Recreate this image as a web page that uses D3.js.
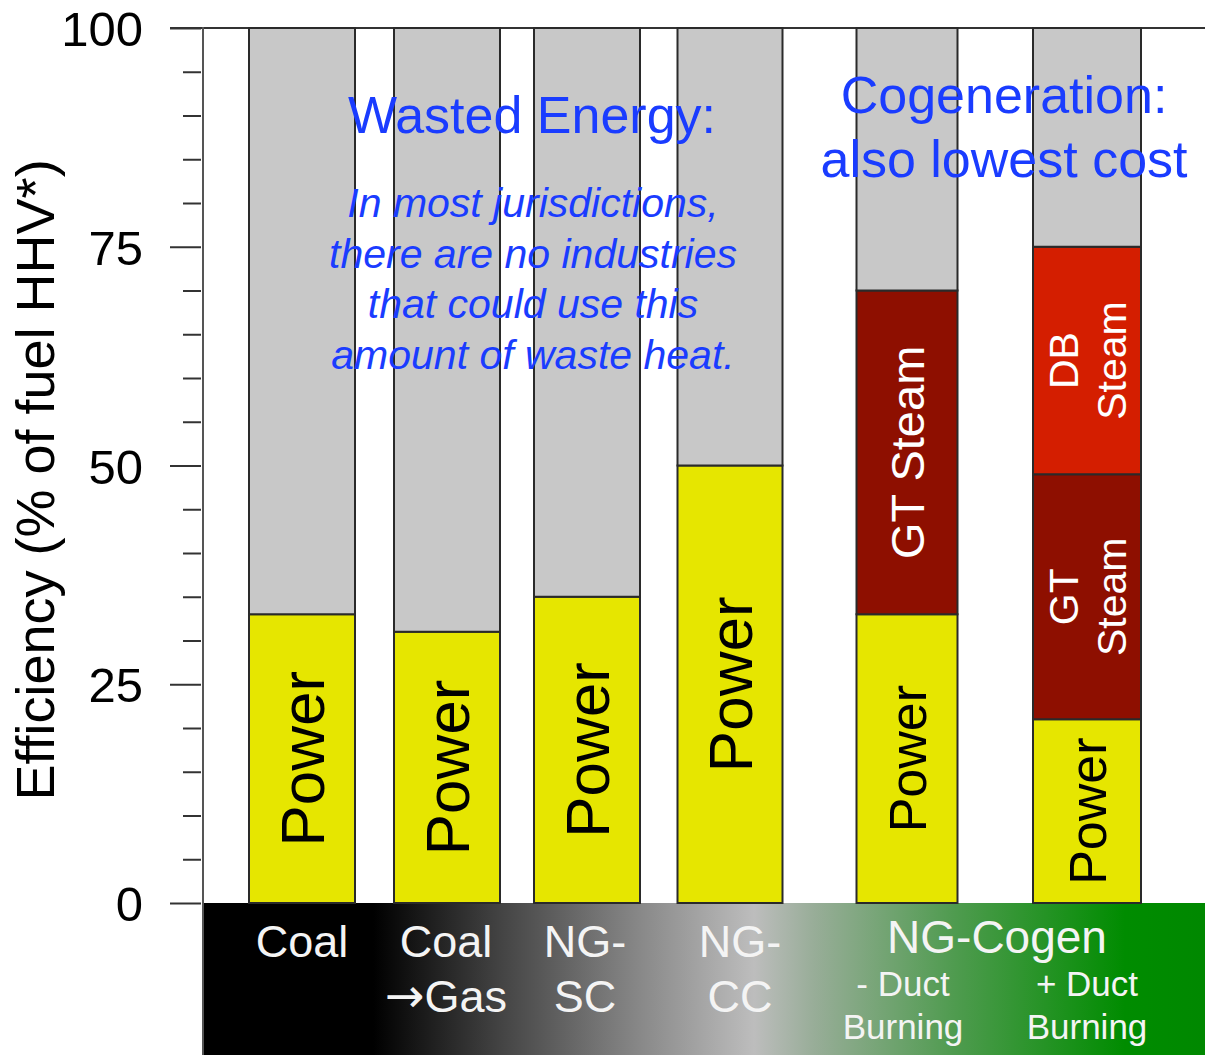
<!DOCTYPE html>
<html>
<head>
<meta charset="utf-8">
<script src="https://cdn.jsdelivr.net/npm/d3@7"></script>
<style>
  html, body { margin: 0; padding: 0; background: #fff; }
  svg { display: block; font-family: "Liberation Sans", Arial, sans-serif; }
</style>
</head>
<body>
<svg id="chart" width="1205" height="1055"></svg>
<script>
// Plant types along the bottom band
const categories = ["Coal", "Coal→Gas", "NG-SC", "NG-CC", "NG-Cogen -DB", "NG-Cogen +DB"];

// Efficiency split, % of fuel HHV
const power   = [33, 31, 35, 50, 33, 21];
const gtSteam = [0, 0, 0, 0, 37, 28];
const dbSteam = [0, 0, 0, 0, 0, 26];
const wasted  = [67, 69, 65, 50, 30, 25];

// Y axis ticks
const majorTicks = [0, 25, 50, 75, 100];
const minorTicks = [5, 10, 15, 20, 30, 35, 40, 45, 55, 60, 65, 70, 80, 85, 90, 95];

// Text inside each segment (lines of a rotated label)
const powerLabels   = [["Power"], ["Power"], ["Power"], ["Power"], ["Power"], ["Power"]];
const gtSteamLabels = [[], [], [], [], ["GT Steam"], ["GT", "Steam"]];
const dbSteamLabels = [[], [], [], [], [], ["DB", "Steam"]];

// Category names in the bottom band
const bandLabels = [["Coal"], ["Coal", "→Gas"], ["NG-", "SC"], ["NG-", "CC"], ["- Duct", "Burning"], ["+ Duct", "Burning"]];
const groupLabel = "NG-Cogen";

const svg = d3.select("#chart");
const W = 1205, H = 1055;
const plotLeft = 203, plotTop = 28, plotBottom = 903;

const y = d3.scaleLinear().domain([0, 100]).range([plotBottom, plotTop]);
const x = d3.scaleOrdinal().domain(categories).range([302, 447, 587, 730, 907, 1087]);
const barW = d3.scaleOrdinal().domain(categories).range([106, 106, 106, 105, 101, 108]);
// horizontal nudge of band captions relative to bar centres
const bandShift = d3.scaleOrdinal().domain(categories).range([0, -1, -2, 10, -4, 0]);

const rows = categories.map((c, i) => ({
  cat: c, power: power[i], gtSteam: gtSteam[i], dbSteam: dbSteam[i], wasted: wasted[i], i
}));
const keys = ["power", "gtSteam", "dbSteam", "wasted"];
const colors = { power: "#e6e600", gtSteam: "#8e0f00", dbSteam: "#d41e00", wasted: "#c8c8c8" };
const stacked = d3.stack().keys(keys)(rows);

// Bottom band gradient: black → grey → green
const defs = svg.append("defs");
const grad = defs.append("linearGradient").attr("id", "band").attr("x1", "0%").attr("x2", "100%");
[[0, "#000"], [17, "#000"], [30, "#454545"], [44, "#8a8a8a"], [55, "#bdbdbd"], [61, "#98ad98"],
 [75, "#4f9b4f"], [92, "#008c00"], [100, "#008800"]].forEach(([o, c]) =>
  grad.append("stop").attr("offset", o + "%").attr("stop-color", c));

svg.append("rect").attr("x", plotLeft).attr("y", plotBottom)
  .attr("width", W - plotLeft).attr("height", H - plotBottom).attr("fill", "url(#band)");

// Top frame line
svg.append("line").attr("x1", 170).attr("x2", W).attr("y1", plotTop).attr("y2", plotTop)
  .attr("stroke", "#333").attr("stroke-width", 2);

// Stacked bars
svg.append("g").selectAll("g").data(stacked).join("g")
  .attr("fill", d => colors[d.key])
  .selectAll("rect").data(d => d.filter(s => s[1] - s[0] > 0)).join("rect")
  .attr("x", d => x(d.data.cat) - barW(d.data.cat) / 2)
  .attr("width", d => barW(d.data.cat))
  .attr("y", d => y(d[1]))
  .attr("height", d => y(d[0]) - y(d[1]))
  .attr("stroke", "#2a2a2a").attr("stroke-width", 2);

// Rotated labels inside segments
function segLabel(lines, cat, lo, hi, size, color) {
  if (!lines.length) return;
  const cx = x(cat), cy = (y(lo) + y(hi)) / 2;
  const lh = size * 1.17;
  const t = svg.append("text")
    .attr("transform", `translate(${cx},${cy}) rotate(-90)`)
    .attr("text-anchor", "middle").attr("font-size", size).attr("fill", color);
  lines.forEach((ln, k) => {
    const off = (k - (lines.length - 1) / 2) * lh + size * 0.36;
    t.append("tspan").attr("x", 0).attr("y", off).text(ln);
  });
}
rows.forEach((r, i) => {
  const pSize = i < 4 ? 62 : 52;
  segLabel(powerLabels[i], r.cat, 0, power[i], pSize, "#000");
  const gSize = gtSteamLabels[i].length > 1 ? 41 : 47;
  segLabel(gtSteamLabels[i], r.cat, power[i], power[i] + gtSteam[i], gSize, "#fff");
  segLabel(dbSteamLabels[i], r.cat, power[i] + gtSteam[i], power[i] + gtSteam[i] + dbSteam[i], 41, "#fff");
});

// Y axis
const axMajor = svg.append("g").attr("transform", `translate(${plotLeft - 2},0)`)
  .call(d3.axisLeft(y).tickValues(majorTicks).tickSize(31).tickPadding(27).tickFormat(d3.format("d")));
const axMinor = svg.append("g").attr("transform", `translate(${plotLeft - 2},0)`)
  .call(d3.axisLeft(y).tickValues(minorTicks).tickSize(18).tickFormat(""));
[axMajor, axMinor].forEach(g => {
  g.select(".domain").remove();
  g.selectAll(".tick line").attr("stroke", "#333").attr("stroke-width", 2);
});
axMajor.selectAll(".tick text").attr("font-size", 49).attr("fill", "#000")
  .attr("font-family", "'Liberation Sans', Arial, sans-serif").attr("dy", "0.36em");

svg.append("line").attr("x1", plotLeft).attr("x2", plotLeft).attr("y1", plotTop - 1).attr("y2", H)
  .attr("stroke", "#555").attr("stroke-width", 2);

svg.append("text").attr("transform", `translate(54,480) rotate(-90)`)
  .attr("text-anchor", "middle").attr("font-size", 54).attr("fill", "#000")
  .text("Efficiency (% of fuel HHV*)");

// Band labels
const blue = "#1a3cff";
rows.forEach((r, i) => {
  const lines = bandLabels[i];
  const cog = i >= 4;
  const size = cog ? 35 : 45;
  const base = cog ? 996 : 957;
  const step = cog ? 43 : 55;
  const t = svg.append("text").attr("text-anchor", "middle").attr("font-size", size).attr("fill", "#f4f4f4");
  lines.forEach((ln, k) => {
    const sp = t.append("tspan").attr("x", x(r.cat) + bandShift(r.cat)).attr("y", base + k * step);
    if (ln.startsWith("→")) {
      sp.append("tspan").attr("font-family", "'DejaVu Sans', sans-serif").attr("font-size", size * 1.05)
        .text("→");
      sp.append("tspan").text(ln.slice(1));
    } else {
      sp.text(ln);
    }
  });
});
svg.append("text").attr("x", (x(categories[4]) + x(categories[5])) / 2)
  .attr("y", 953).attr("text-anchor", "middle").attr("font-size", 46).attr("fill", "#f4f4f4")
  .text(groupLabel);

// Annotations
svg.append("text").attr("x", 532).attr("y", 133).attr("text-anchor", "middle")
  .attr("font-size", 52).attr("fill", blue).text("Wasted Energy:");
const note = ["In most jurisdictions,", "there are no industries", "that could use this", "amount of waste heat."];
const nt = svg.append("text").attr("text-anchor", "middle").attr("font-size", 41)
  .attr("font-style", "italic").attr("fill", blue);
note.forEach((ln, k) => nt.append("tspan").attr("x", 533).attr("y", 217 + k * 50.5).text(ln));

const cg = svg.append("text").attr("text-anchor", "middle").attr("font-size", 52).attr("fill", blue);
["Cogeneration:", "also lowest cost"].forEach((ln, k) =>
  cg.append("tspan").attr("x", 1004).attr("y", 113 + k * 64).text(ln));
</script>
</body>
</html>
